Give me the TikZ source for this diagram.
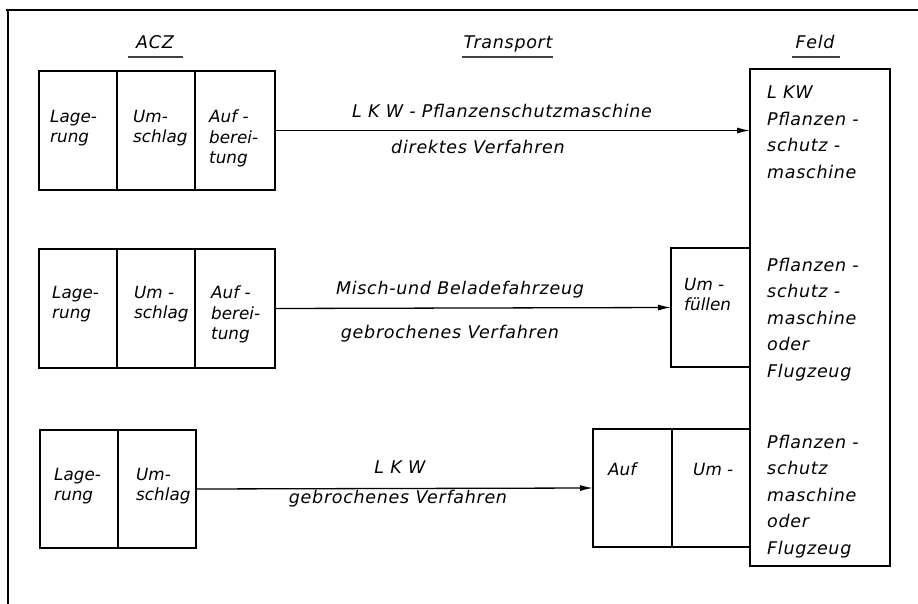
\documentclass[tikz,border=0pt]{standalone}
\usepackage{fontspec}
\setmainfont{DejaVu Sans}[LetterSpace=4]
\newfontfamily\cellfont{DejaVu Sans}
\usetikzlibrary{arrows.meta}
\begin{document}
\begin{tikzpicture}[x=1pt,y=-1pt,
  cell/.style={draw,line width=1.6pt,inner sep=0pt,outer sep=0pt},
  txt/.style={font=\cellfont\fontsize{16.8}{20.5}\selectfont\itshape,align=left,anchor=north west,inner sep=0pt},
  feldtxt/.style={font=\fontsize{17.5}{26.5}\selectfont\itshape,align=left,anchor=north west,inner sep=0pt},
  lab/.style={font=\fontsize{17.5}{20}\selectfont\itshape,anchor=base,inner sep=0pt},
  conn/.style={line width=1.3pt,-{Latex[length=13pt,width=6pt]}},
  uline/.style={line width=1.3pt,black!75}]
\useasboundingbox (0,0) rectangle (918,604);
% frame
\draw[line width=1.5pt] (6,10) -- (918,10);
\draw[line width=1.5pt] (8,10) -- (8,604);
% headings
\node[lab] (hacz) at (155,49) {ACZ};
\node[lab] (htr) at (508,49) {Transport};
\node[lab] (hfeld) at (815,49) {Feld};
\draw[uline] (128,57) -- (183,57);
\draw[uline] (462,57) -- (553,57);
\draw[uline] (792,57) -- (840,57);
% Feld box
\node[cell,minimum width=140pt,minimum height=497pt] (feld) at (820,317.5) {};
% row 1
\node[cell,minimum width=78pt,minimum height=119pt] (r1a) at (78,130.5) {};
\node[cell,minimum width=78pt,minimum height=119pt] (r1b) at (156,130.5) {};
\node[cell,minimum width=80pt,minimum height=119pt] (r1c) at (235,130.5) {};
\node[txt] (t1a) at (50,110) {Lage-\\rung};
\node[txt] (t1b) at (133,110) {Um-\\schlag};
\node[txt] (t1c) at (209,110) {Auf -\\berei-\\tung};
\draw[conn] (r1c.east) -- (r1c.east -| feld.west);
\node[lab] (l1a) at (502,118) {L K W - Pflanzenschutzmaschine};
\node[lab] (l1b) at (478,154) {direktes Verfahren};
\node[feldtxt] (f1) at (767,86) {L KW\\Pflanzen -\\schutz -\\maschine};
% row 2
\node[cell,minimum width=78pt,minimum height=119pt] (r2a) at (78,308.5) {};
\node[cell,minimum width=78pt,minimum height=119pt] (r2b) at (156,308.5) {};
\node[cell,minimum width=80pt,minimum height=119pt] (r2c) at (235,308.5) {};
\node[txt] (t2a) at (52,286) {Lage-\\rung};
\node[txt] (t2b) at (134,286) {Um -\\schlag};
\node[txt] (t2c) at (211,286) {Auf -\\berei-\\tung};
\node[cell,minimum width=79pt,minimum height=119pt] (umf) at (710.5,307.5) {};
\node[txt] (tumf) at (684,278) {Um -\\füllen};
\draw[conn] (r2c.east) -- (umf.west);
\node[lab] (l2a) at (460,294) {Misch-und Beladefahrzeug};
\node[lab] (l2b) at (450,338) {gebrochenes Verfahren};
\node[feldtxt] (f2) at (767,258) {Pflanzen -\\schutz -\\maschine\\oder\\Flugzeug};
% row 3
\node[cell,minimum width=78pt,minimum height=118pt] (r3a) at (79,489) {};
\node[cell,minimum width=78pt,minimum height=118pt] (r3b) at (157,489) {};
\node[txt] (t3a) at (54,468) {Lage-\\rung};
\node[txt] (t3b) at (136,468) {Um-\\schlag};
\node[cell,minimum width=79pt,minimum height=118pt] (r3d) at (632.5,488) {};
\node[cell,minimum width=78pt,minimum height=118pt] (r3e) at (711,488) {};
\node[txt] (t3d) at (608,463) {Auf};
\node[txt] (t3e) at (693,463) {Um -};
\draw[conn] (r3b.east) -- (r3d.west);
\node[lab] (l3a) at (400,473) {L K W};
\node[lab] (l3b) at (398,503) {gebrochenes Verfahren};
\node[feldtxt] (f3) at (767,435) {Pflanzen -\\schutz\\maschine\\oder\\Flugzeug};
\end{tikzpicture}
\end{document}
